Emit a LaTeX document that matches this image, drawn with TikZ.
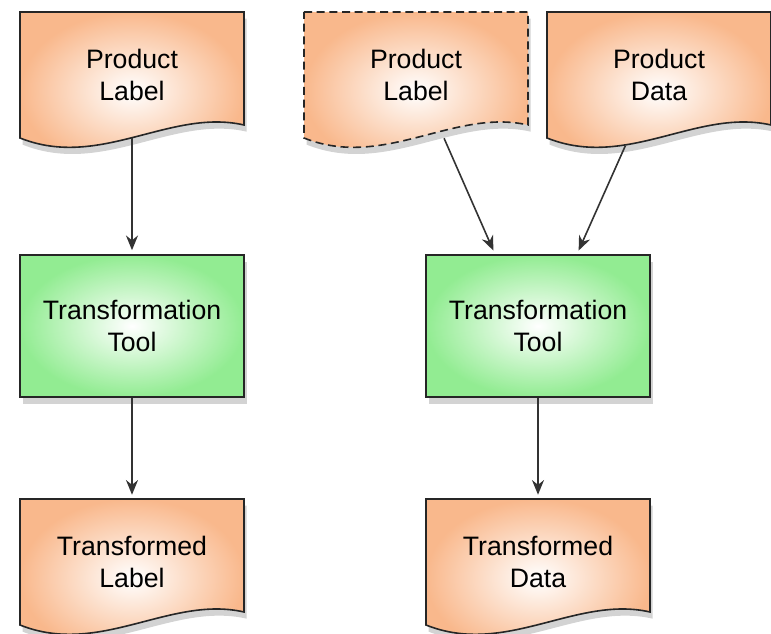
\documentclass[tikz,border=0pt]{standalone}
\usepackage{fontspec}
\setmainfont{Liberation Sans}
\usetikzlibrary{arrows.meta,shadows,calc}

\definecolor{docorange}{RGB}{249,184,140}
\definecolor{toolgreen}{RGB}{146,236,146}

\tikzset{
  docbox/.style={draw=black!85, line width=1.2pt, inner color=white, outer color=docorange,
    drop shadow={shadow xshift=2pt, shadow yshift=-5pt, opacity=0.35}},
  doctext/.style={minimum width=168pt, minimum height=94.5pt, inner sep=0pt, align=center,
    font=\fontsize{20}{24}\selectfont},
  toolbox/.style={draw=black!85, line width=1.2pt, inner color=white, outer color=toolgreen,
    drop shadow={shadow xshift=2pt, shadow yshift=-5pt, opacity=0.35},
    minimum width=168pt, minimum height=106.5pt, inner sep=0pt, align=center,
    font=\fontsize{20}{24}\selectfont},
  flow/.style={draw=black!80, line width=1.2pt, -{Stealth[length=11pt,width=9pt]}, shorten >=3pt}
}

% document shape: top left corner at (#2,#3)
\newcommand{\docshape}[3][]{%
  \draw[docbox,#1] (#2,#3) -- (#2+224,#3) -- (#2+224,#3+113)
    .. controls (#2+150,#3+96) and (#2+80,#3+158) .. (#2,#3+126) -- cycle;}

\begin{document}
\begin{tikzpicture}[x=0.75pt,y=0.75pt,yscale=-1,xscale=1]
    \useasboundingbox (0,0) rectangle (771,634);

    % left chain
    \docshape{20}{12}
    \node[doctext] (plabel) at (132,75) {Product\\Label};
    \node[toolbox] (tool) at (132,326) {Transformation\\Tool};
    \docshape{20}{499}
    \node[doctext] (tlabel) at (132,562) {Transformed\\Label};

    % right chain
    \docshape[dash pattern=on 6pt off 3.5pt]{304}{12}
    \node[doctext] (plabelb) at (416,75) {Product\\Label};
    \docshape{547}{12}
    \node[doctext] (pdata) at (659,75) {Product\\Data};
    \node[toolbox] (toolb) at (538,326) {Transformation\\Tool};
    \docshape{426}{499}
    \node[doctext] (tdata) at (538,562) {Transformed\\Data};

    \draw[flow] (plabel.south) -- (tool.north);
    \draw[flow] (tool.south) -- (tlabel.north);
    \draw[flow] ($(plabelb.south)!0.25!(plabelb.south east)$) -- ($(toolb.north)+(-43,0)$);
    \draw[flow, shorten <=6pt] ($(pdata.south)!0.27!(pdata.south west)$) -- ($(toolb.north)+(39,0)$);
    \draw[flow] (toolb.south) -- (tdata.north);
\end{tikzpicture}
\end{document}
